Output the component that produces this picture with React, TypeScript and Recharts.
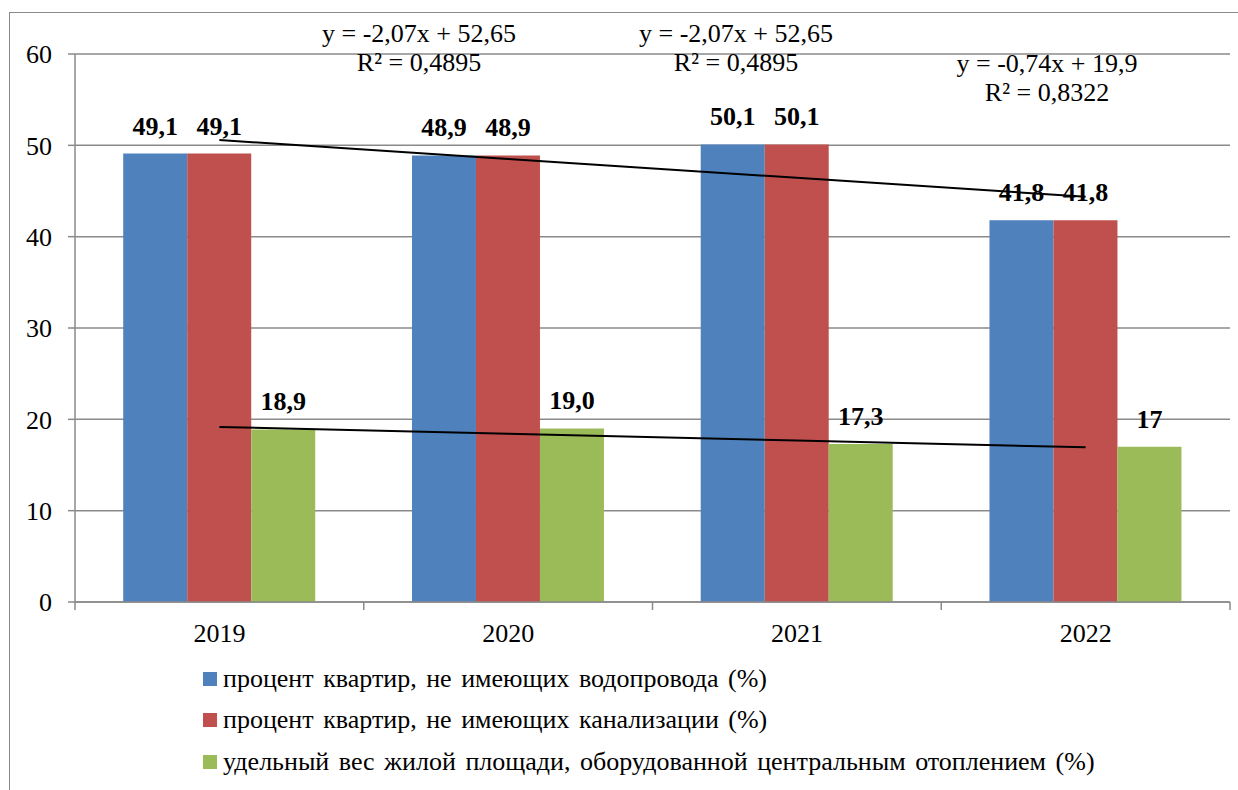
import { Bar, CartesianGrid, ComposedChart, LabelList, Legend, Line, XAxis, YAxis } from "recharts";

const years = ["2019", "2020", "2021", "2022"];
const waterValues = [49.1, 48.9, 50.1, 41.8];
const sewerValues = [49.1, 48.9, 50.1, 41.8];
const heatingValues = [18.9, 19.0, 17.3, 17];
const waterLabels = ["49,1", "48,9", "50,1", "41,8"];
const sewerLabels = ["49,1", "48,9", "50,1", "41,8"];
const heatingLabels = ["18,9", "19,0", "17,3", "17"];
const trendUpper = [50.58, 48.51, 46.44, 44.37];
const trendLower = [19.16, 18.42, 17.68, 16.94];
const yTicks = [0, 10, 20, 30, 40, 50, 60];
const seriesNames = [
  "процент квартир, не имеющих водопровода (%)",
  "процент квартир, не имеющих канализации (%)",
  "удельный вес жилой площади, оборудованной центральным отоплением (%)",
];
const equationLines = [
  ["y = -2,07x + 52,65", "R² = 0,4895"],
  ["y = -2,07x + 52,65", "R² = 0,4895"],
  ["y = -0,74x + 19,9", "R² = 0,8322"],
];

const colors = ["#4F81BD", "#C0504D", "#9BBB59"];
const serif = "'Liberation Serif', 'Times New Roman', serif";
const gridColor = "#8a8a8a";

const data = years.map((year, i) => ({
  year,
  water: waterValues[i],
  sewer: sewerValues[i],
  heating: heatingValues[i],
  waterLabel: waterLabels[i],
  sewerLabel: sewerLabels[i],
  heatingLabel: heatingLabels[i],
  trendUpper: trendUpper[i],
  trendLower: trendLower[i],
}));

function YearTick(props: any) {
  const { x, y, payload, index, visibleTicksCount } = props;
  const plotWidth = typeof props.width === "number" ? props.width : 1155;
  const half = plotWidth / (visibleTicksCount || 4) / 2;
  const axisY = y - 22;
  const last = index === (visibleTicksCount || 4) - 1;
  return (
    <g>
      <line x1={x - half} x2={x - half} y1={axisY} y2={axisY + 8} stroke={gridColor} strokeWidth={1.5} />
      {last && <line x1={x + half} x2={x + half} y1={axisY} y2={axisY + 8} stroke={gridColor} strokeWidth={1.5} />}
      <text x={x} y={y} dy="0.71em" textAnchor="middle" style={{ fontFamily: serif }} fontSize={26} fill="#000">
        {payload.value}
      </text>
    </g>
  );
}

const renderLegend = () => (
  <div style={{ height: 130, paddingTop: 6, boxSizing: "border-box", fontFamily: serif, fontSize: 26, wordSpacing: 3, color: "#000" }}>
    {seriesNames.map((name, i) => (
      <div key={name} style={{ height: 41.5, display: "flex", alignItems: "center", whiteSpace: "nowrap" }}>
        <span style={{ display: "inline-block", width: 14, height: 14, background: colors[i], marginRight: 6 }} />
        {name}
      </div>
    ))}
  </div>
);

const labelStyle = { fontFamily: serif, fontSize: 26, fontWeight: 700, fill: "#000" };

export default function App() {
  const equationPos = [
    { x: 419, y1: 33.5, y2: 63 },
    { x: 736, y1: 33.5, y2: 63 },
    { x: 1047, y1: 63.5, y2: 92.5 },
  ];
  return (
    <div style={{ position: "absolute", left: 0, top: 0, width: 1238, height: 790, overflow: "hidden", background: "#fff", fontFamily: serif }}>
      <div style={{ position: "absolute", left: 9, top: 12, width: 1400, height: 900, borderLeft: `1.5px solid ${gridColor}`, borderTop: `1.5px solid ${gridColor}` }} />
      <div style={{ position: "absolute", left: 0, top: 0 }}>
        <ComposedChart width={1238} height={790} data={data} margin={{ top: 54, right: 8, bottom: 8, left: 0 }} barCategoryGap="16.7%" barGap={0} style={{ fontFamily: serif }}>
          <CartesianGrid vertical={false} stroke={gridColor} strokeWidth={1.5} />
          <XAxis dataKey="year" height={50} tickLine={false} tickSize={8} tickMargin={14} stroke={gridColor} strokeWidth={1.5} tick={<YearTick />} interval={0} />
          <YAxis width={75} domain={[0, 60]} ticks={yTicks} tickSize={7} tickMargin={16} stroke={gridColor} strokeWidth={1.5} tick={{ fontFamily: serif, fontSize: 26, fill: "#000" }} />
          <Legend verticalAlign="bottom" align="center" layout="vertical" content={renderLegend} wrapperStyle={{ left: 203, bottom: 8, width: 1030 }} />
          <Bar dataKey="water" name={seriesNames[0]} fill={colors[0]} isAnimationActive={false}>
            <LabelList dataKey="waterLabel" position="top" offset={19} style={labelStyle} />
          </Bar>
          <Bar dataKey="sewer" name={seriesNames[1]} fill={colors[1]} isAnimationActive={false}>
            <LabelList dataKey="sewerLabel" position="top" offset={19} style={labelStyle} />
          </Bar>
          <Bar dataKey="heating" name={seriesNames[2]} fill={colors[2]} isAnimationActive={false}>
            <LabelList dataKey="heatingLabel" position="top" offset={19} style={labelStyle} />
          </Bar>
          <Line dataKey="trendUpper" type="linear" stroke="#000" strokeWidth={2} dot={false} activeDot={false} legendType="none" isAnimationActive={false} />
          <Line dataKey="trendLower" type="linear" stroke="#000" strokeWidth={2} dot={false} activeDot={false} legendType="none" isAnimationActive={false} />
        </ComposedChart>
      </div>
      {equationLines.map((lines, i) => (
        <div key={i}>
          {lines.map((text, j) => (
            <div
              key={j}
              style={{
                position: "absolute",
                left: equationPos[i].x,
                top: j === 0 ? equationPos[i].y1 : equationPos[i].y2,
                transform: "translate(-50%, -50%)",
                fontFamily: serif,
                fontSize: 26,
                lineHeight: 1,
                whiteSpace: "nowrap",
                color: "#000",
              }}
            >
              {text}
            </div>
          ))}
        </div>
      ))}
    </div>
  );
}
